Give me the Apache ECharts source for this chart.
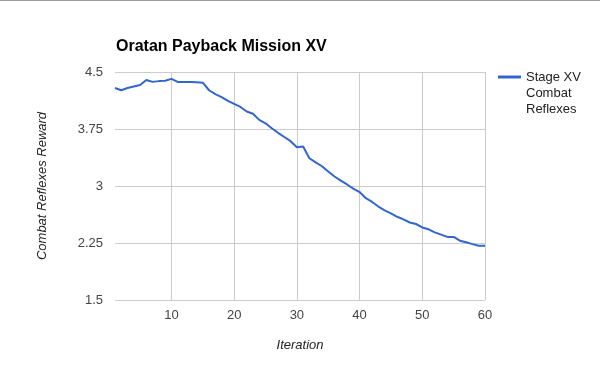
<!DOCTYPE html>
<html>
<head>
<meta charset="utf-8">
<script src="https://cdn.jsdelivr.net/npm/echarts@6/dist/echarts.min.js"></script>
<style>
html,body{margin:0;padding:0;background:#fff;}
#chart{width:600px;height:372px;}
</style>
</head>
<body>
<div id="chart"></div>
<script>
const iterations = [1,2,3,4,5,6,7,8,9,10,11,12,13,14,15,16,17,18,19,20,21,22,23,24,25,26,27,28,29,30,31,32,33,34,35,36,37,38,39,40,41,42,43,44,45,46,47,48,49,50,51,52,53,54,55,56,57,58,59,60];
const rewards = [4.29,4.26,4.29,4.31,4.33,4.395,4.37,4.38,4.385,4.41,4.37,4.37,4.37,4.365,4.36,4.26,4.21,4.17,4.12,4.08,4.04,3.98,3.95,3.87,3.825,3.76,3.70,3.645,3.59,3.51,3.52,3.365,3.31,3.26,3.19,3.125,3.07,3.02,2.965,2.92,2.84,2.79,2.73,2.68,2.64,2.595,2.56,2.52,2.50,2.455,2.43,2.39,2.36,2.33,2.33,2.28,2.26,2.235,2.215,2.215];
const xTicks = [10,20,30,40,50,60];
const yTicks = [1.5,2.25,3,3.75,4.5];
const seriesName = 'Stage XV Combat Reflexes';
const legendLines = ['Stage XV','Combat','Reflexes'];
const titleText = 'Oratan Payback Mission XV';

const chart = echarts.init(document.getElementById('chart'), null, {renderer:'canvas'});
chart.setOption({
  animation:false,
  backgroundColor:'#fff',
  title:{text:titleText,left:111,top:34,textStyle:{fontFamily:'Liberation Sans, Arial',fontSize:16,fontWeight:'bold',color:'#000'}},
  grid:{left:115,right:115,top:72,bottom:72,containLabel:false},
  legend:{
    show:true,left:493,top:32,orient:'vertical',
    icon:'rect',itemWidth:23,itemHeight:3,itemGap:0,
    data:[seriesName],
    formatter:function(){return '\n\n'+legendLines.join('\n');},
    textStyle:{fontFamily:'Liberation Sans, Arial',fontSize:13,color:'#222',lineHeight:16}
  },
  xAxis:{
    type:'value',min:1,max:60,
    name:'Iteration',nameLocation:'middle',nameGap:39,
    nameTextStyle:{fontFamily:'Liberation Sans, Arial',fontSize:13,fontStyle:'italic',color:'#222'},
    axisLine:{show:false},axisTick:{show:false,customValues:xTicks},
    axisLabel:{customValues:xTicks,margin:9,fontFamily:'Liberation Sans, Arial',fontSize:13,color:'#444'},
    splitLine:{show:true,lineStyle:{color:'#cccccc',width:1}}
  },
  yAxis:{
    type:'value',min:yTicks[0],max:yTicks[yTicks.length-1],interval:0.75,
    name:'Combat Reflexes Reward',nameLocation:'middle',nameGap:66,
    nameTextStyle:{fontFamily:'Liberation Sans, Arial',fontSize:13,fontStyle:'italic',color:'#222'},
    axisLine:{show:false},axisTick:{show:false},
    axisLabel:{margin:12,fontFamily:'Liberation Sans, Arial',fontSize:13,color:'#444'},
    splitLine:{show:true,lineStyle:{color:'#cccccc',width:1}}
  },
  graphic:[{type:'line',shape:{x1:0,y1:0.5,x2:600,y2:0.5},style:{stroke:'#9a9a9a',lineWidth:1},silent:true}],
  series:[{
    name:seriesName,type:'line',symbol:'none',
    data:iterations.map((x,i)=>[x,rewards[i]]),
    lineStyle:{color:'#3366cc',width:2},itemStyle:{color:'#3366cc'}
  }]
});
</script>
</body>
</html>
